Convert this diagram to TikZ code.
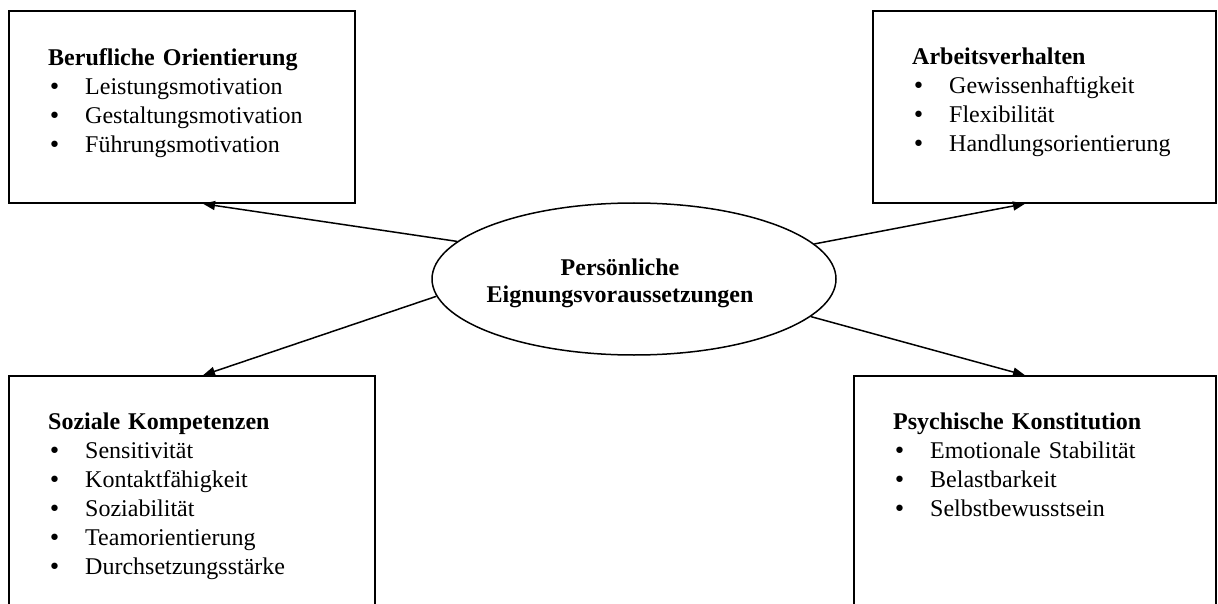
\documentclass[tikz,border=0pt]{standalone}
\usepackage{fontspec}
\setmainfont{Liberation Serif}
\newfontfamily\bulletfont{DejaVu Sans}
\usetikzlibrary{arrows.meta,shapes.geometric}
\begin{document}
\begin{tikzpicture}[x=1pt,y=-1pt,
  box/.style={draw, line width=1.5pt, inner sep=0pt},
  boxtext/.style={anchor=base west, align=left, text width=330pt, inner sep=0pt,
    font=\fontsize{24}{29}\selectfont},
  center/.style={draw, ellipse, line width=1.5pt, inner sep=0pt,
    minimum width=404pt, minimum height=152pt},
  arr/.style={line width=1.5pt, -{Triangle[length=12pt,width=9pt]}}
]
\newcommand{\itm}[1]{\makebox[37pt][l]{{\bulletfont\fontsize{22}{29}\selectfont •}}#1}
\useasboundingbox (0,0) rectangle (1218,604);

% boxes
\node[box, minimum width=346pt, minimum height=192pt] (bo) at (182,107) {};
\node[box, minimum width=343pt, minimum height=192pt] (av) at (1044.5,107) {};
\node[box, minimum width=366pt, minimum height=264pt] (sk) at (192,508) {};
\node[box, minimum width=362pt, minimum height=264pt] (pk) at (1035,508) {};

% box texts
\node[boxtext] (bot) at (48,66) {\textbf{Berufliche Orientierung}\\
  \itm{Leistungsmotivation}\\
  \itm{Gestaltungsmotivation}\\
  \itm{Führungsmotivation}};
\node[boxtext] (avt) at (912,65) {\textbf{Arbeitsverhalten}\\
  \itm{Gewissenhaftigkeit}\\
  \itm{Flexibilität}\\
  \itm{Handlungsorientierung}};
\node[boxtext] (skt) at (48,429) {\textbf{Soziale Kompetenzen}\\
  \itm{Sensitivität}\\
  \itm{Kontaktfähigkeit}\\
  \itm{Soziabilität}\\
  \itm{Teamorientierung}\\
  \itm{Durchsetzungsstärke}};
\node[boxtext] (pkt) at (893,429) {\textbf{Psychische Konstitution}\\
  \itm{Emotionale Stabilität}\\
  \itm{Belastbarkeit}\\
  \itm{Selbstbewusstsein}};

% centre
\node[center] (c) at (634,279) {};
\node[anchor=base, align=center, inner sep=0pt,
  font=\fontsize{24}{27}\selectfont\bfseries] (ct) at (620,302)
  {Persönliche\\Eignungsvoraussetzungen};

% connectors
\draw[arr] (c.168.5) -- ([xshift=21pt]bo.south);
\draw[arr] (c.11.5) -- ([xshift=-19.5pt]av.south);
\draw[arr] (c.185.7) -- ([xshift=11pt]sk.north);
\draw[arr] (c.348) -- ([xshift=-10pt]pk.north);
\end{tikzpicture}
\end{document}
